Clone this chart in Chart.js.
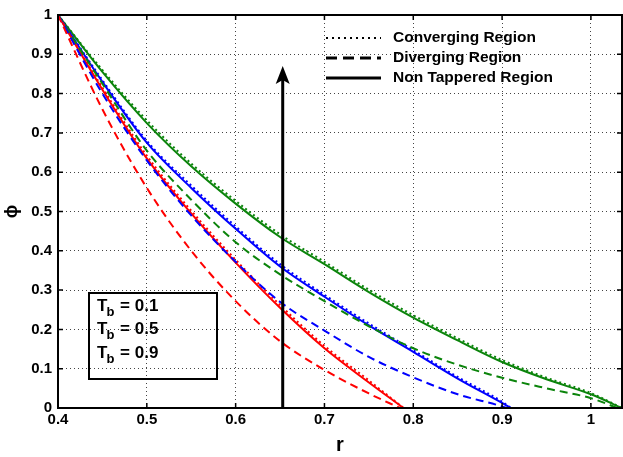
<!DOCTYPE html>
<html>
<head>
<meta charset="utf-8">
<script src="https://cdn.jsdelivr.net/npm/chart.js@4.4.1/dist/chart.umd.min.js"></script>
<style>
  body { margin: 0; background: #fff; }
  canvas { display: block; }
</style>
</head>
<body>
<canvas id="finChart" width="623" height="457"></canvas>
<script>
// tick labels
const rTicks = [0.4, 0.5, 0.6, 0.7, 0.8, 0.9, 1];
const phiTicks = [0, 0.1, 0.2, 0.3, 0.4, 0.5, 0.6, 0.7, 0.8, 0.9, 1];

const regionNames = ['Converging Region', 'Diverging Region', 'Non Tappered Region'];
const tbValues = ['0.1', '0.5', '0.9'];

// Tb = 0.1 (red)
const rRed = [0.4, 0.45, 0.5, 0.55, 0.6, 0.65, 0.7, 0.75, 0.789];
const redSolid = [1, 0.81, 0.635, 0.495, 0.37, 0.255, 0.152, 0.065, 0];
const redConv = [1, 0.815, 0.642, 0.502, 0.377, 0.262, 0.158, 0.07, 0];
const rRedDiv = [0.4, 0.45, 0.5, 0.55, 0.6, 0.65, 0.7, 0.75, 0.785];
const redDiv = [1, 0.76, 0.56, 0.4, 0.272, 0.17, 0.097, 0.037, 0];

// Tb = 0.5 (blue)
const rBlue = [0.4, 0.45, 0.5, 0.55, 0.6, 0.65, 0.7, 0.75, 0.8, 0.85, 0.9, 0.91];
const blueSolid = [1, 0.83, 0.675, 0.56, 0.456, 0.36, 0.283, 0.21, 0.143, 0.075, 0.013, 0];
const blueConv = [1, 0.834, 0.68, 0.566, 0.462, 0.366, 0.288, 0.215, 0.147, 0.079, 0.016, 0];
const rBlueDiv = [0.4, 0.45, 0.5, 0.55, 0.6, 0.65, 0.7, 0.75, 0.8, 0.85, 0.9, 0.905];
const blueDiv = [1, 0.8, 0.63, 0.49, 0.372, 0.27, 0.197, 0.13, 0.078, 0.035, 0.004, 0];

// Tb = 0.9 (green)
const rGreen = [0.4, 0.45, 0.5, 0.55, 0.6, 0.65, 0.7, 0.75, 0.8, 0.85, 0.9, 0.95, 1.0, 1.035];
const greenSolid = [1, 0.855, 0.725, 0.615, 0.52, 0.435, 0.366, 0.295, 0.23, 0.172, 0.117, 0.073, 0.035, 0];
const greenConv = [1, 0.86, 0.732, 0.622, 0.527, 0.442, 0.372, 0.301, 0.236, 0.177, 0.122, 0.077, 0.038, 0];
const rGreenDiv = [0.4, 0.45, 0.5, 0.55, 0.6, 0.65, 0.7, 0.75, 0.8, 0.85, 0.9, 0.95, 1.0, 1.03];
const greenDiv = [1, 0.825, 0.655, 0.53, 0.422, 0.34, 0.272, 0.208, 0.152, 0.11, 0.077, 0.05, 0.025, 0];

// arrow (increasing Tb)
const arrowR = 0.653;
const arrowPhi = [0, 0.87];

const RED = '#ff0000', BLUE = '#0000ff', GREEN = '#0b840b';
const FONT = "'Liberation Sans', Arial, sans-serif";

function pts(xs, ys) {
    return xs.map((x, i) => ({ x: x, y: ys[i] }));
}

function curve(xs, ys, color, style) {
    const ds = {
        data: pts(xs, ys),
        borderColor: color,
        borderWidth: 2,
        pointRadius: 0,
        fill: false,
        cubicInterpolationMode: 'monotone'
    };
    if (style === 'dot') ds.borderDash = [2, 3];
    if (style === 'dash') ds.borderDash = [8, 5];
    return ds;
}

const datasets = [
    curve(rRedDiv, redDiv, RED, 'dash'),
    curve(rBlueDiv, blueDiv, BLUE, 'dash'),
    curve(rGreenDiv, greenDiv, GREEN, 'dash'),
    curve(rRed, redConv, RED, 'dot'),
    curve(rBlue, blueConv, BLUE, 'dot'),
    curve(rGreen, greenConv, GREEN, 'dot'),
    curve(rRed, redSolid, RED, 'solid'),
    curve(rBlue, blueSolid, BLUE, 'solid'),
    curve(rGreen, greenSolid, GREEN, 'solid')
];

const fmt = v => String(Math.round(v * 10) / 10);

const extras = {
    id: 'extras',
    afterDatasetsDraw(chart) {
        const ctx = chart.ctx;
        const a = chart.chartArea;
        const xs = chart.scales.x, ys = chart.scales.y;
        ctx.save();

        // inner tick marks
        ctx.strokeStyle = '#000';
        ctx.lineWidth = 1.5;
        ctx.beginPath();
        rTicks.forEach(v => {
            const px = xs.getPixelForValue(v);
            ctx.moveTo(px, a.bottom); ctx.lineTo(px, a.bottom - 5);
            ctx.moveTo(px, a.top); ctx.lineTo(px, a.top + 5);
        });
        phiTicks.forEach(v => {
            const py = ys.getPixelForValue(v);
            ctx.moveTo(a.left, py); ctx.lineTo(a.left + 5, py);
            ctx.moveTo(a.right, py); ctx.lineTo(a.right - 5, py);
        });
        ctx.stroke();

        // frame
        ctx.lineWidth = 2;
        ctx.strokeRect(a.left, a.top, a.right - a.left, a.bottom - a.top);

        // arrow
        const ax = xs.getPixelForValue(arrowR);
        const ay0 = ys.getPixelForValue(arrowPhi[0]);
        const ay1 = ys.getPixelForValue(arrowPhi[1]);
        ctx.lineWidth = 3;
        ctx.beginPath();
        ctx.moveTo(ax, ay0);
        ctx.lineTo(ax, ay1 + 10);
        ctx.stroke();
        ctx.fillStyle = '#000';
        ctx.beginPath();
        ctx.moveTo(ax, ay1);
        ctx.lineTo(ax - 7, ay1 + 18);
        ctx.lineTo(ax, ay1 + 14);
        ctx.lineTo(ax + 7, ay1 + 18);
        ctx.closePath();
        ctx.fill();

        // Tb box
        ctx.lineWidth = 2;
        ctx.strokeRect(89, 293, 128, 86);
        ctx.textBaseline = 'middle';
        ctx.textAlign = 'left';
        tbValues.forEach((v, i) => {
            const y = 306 + i * 23.5;
            ctx.font = 'bold 17px ' + FONT;
            ctx.fillText('T', 97, y);
            const tw = ctx.measureText('T').width;
            ctx.font = 'bold 13px ' + FONT;
            ctx.fillText('b', 97 + tw - 1, y + 6);
            const bw = ctx.measureText('b').width;
            ctx.font = 'bold 17px ' + FONT;
            ctx.fillText(' = ' + v, 97 + tw + bw, y);
        });

        // legend
        const rows = [38, 58, 78];
        ctx.font = 'bold 15.5px ' + FONT;
        regionNames.forEach((name, i) => {
            const y = rows[i];
            ctx.lineWidth = i === 0 ? 2 : 3;
            ctx.setLineDash(i === 0 ? [2, 4] : i === 1 ? [11, 6] : []);
            ctx.beginPath();
            ctx.moveTo(326, y);
            ctx.lineTo(381, y);
            ctx.stroke();
            ctx.setLineDash([]);
            ctx.fillText(name, 393, y);
        });

        // y label, rotated like the original
        ctx.translate(12, (a.top + a.bottom) / 2);
        ctx.rotate(-Math.PI / 2);
        ctx.textAlign = 'center';
        ctx.font = 'bold 18px ' + FONT;
        ctx.fillText('ϕ', 0, 0);
        ctx.restore();
    }
};

new Chart(document.getElementById('finChart'), {
    type: 'line',
    data: { datasets: datasets },
    options: {
        responsive: false,
        animation: false,
        devicePixelRatio: 1,
        layout: { padding: { top: 15, right: 1, left: 0, bottom: 0 } },
        plugins: {
            legend: { display: false },
            tooltip: { enabled: false }
        },
        scales: {
            x: {
                type: 'linear',
                min: 0.4,
                max: 1.035,
                afterBuildTicks: s => { s.ticks = rTicks.map(v => ({ value: v })); },
                afterFit: s => { s.height = 49; },
                ticks: {
                    color: '#000',
                    font: { family: FONT, size: 15, weight: 'bold' },
                    padding: 3,
                    maxRotation: 0,
                    callback: fmt
                },
                grid: { color: '#444', lineWidth: 1, drawTicks: false },
                border: { display: false, dash: [1, 3] },
                title: {
                    display: true,
                    text: 'r',
                    color: '#000',
                    font: { family: FONT, size: 20, weight: 'bold' },
                    padding: { top: 0, bottom: 0 }
                }
            },
            y: {
                type: 'linear',
                min: 0,
                max: 1,
                afterBuildTicks: s => { s.ticks = phiTicks.map(v => ({ value: v })); },
                afterFit: s => { s.width = 58; },
                ticks: {
                    color: '#000',
                    font: { family: FONT, size: 15, weight: 'bold' },
                    padding: 6,
                    callback: fmt
                },
                grid: { color: '#444', lineWidth: 1, drawTicks: false },
                border: { display: false, dash: [1, 3] },
                title: { display: false }
            }
        }
    },
    plugins: [extras]
});
</script>
</body>
</html>
